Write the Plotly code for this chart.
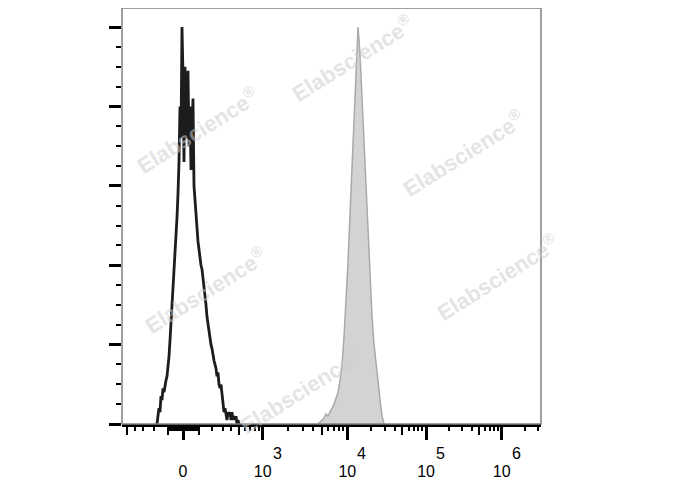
import numpy as np
import plotly.graph_objects as go

# ---------------- data ----------------
# Display scale: biexponential-like, channels 0..1024 across the plot width
CHANNEL_RANGE = [0, 1024]
ANCHOR_VALUES = [0, 1e3, 1e4, 1e5, 1e6]
ANCHOR_CHANNELS = [149.1, 343.9, 550.6, 743.0, 928.0]
LINEAR_WIDTH = 229.0

TICK_LABEL_VALUES = [0, 1e3, 1e4, 1e5, 1e6]
TICK_BASES = ["0", "10", "10", "10", "10"]
TICK_EXPONENTS = ["", "3", "4", "5", "6"]
MEDIUM_TICK_VALUES = [-500, -100, 100, 500, 5e3, 5e4, 5e5]
MINOR_TICK_VALUES = ([-900, -800, -700, -600, -400, -300, -200,
                      -90, -80, -70, -60, -50, -40, -30, -20, -10,
                      10, 20, 30, 40, 50, 60, 70, 80, 90,
                      200, 300, 400, 600, 700, 800, 900]
                     + [m * 10 ** e for e in (3, 4, 5) for m in (2, 3, 4, 6, 7, 8, 9)]
                     + [2e6, 3e6])

Y_MAJOR = [0, 20, 40, 60, 80, 100]
Y_MINOR = [5, 10, 15, 25, 30, 35, 45, 50, 55, 65, 70, 75, 85, 90, 95, 105]
Y_RANGE = [0, 104.8]

# Unstained / isotype histogram (black line): bin start channel, bin width, % of max
BLACK_START = 85.5
BLACK_BIN = 2.444
BLACK_COUNTS = [0, 2, 4, 3, 7, 6, 9, 8, 10, 11, 12, 14, 17, 21, 25, 29, 33, 37, 41, 46,
                52, 58, 66, 80, 72, 100, 88, 66, 90, 72, 78, 89, 70, 80, 64, 74, 82, 60,
                56, 52, 50, 46, 44, 41, 40, 39, 37, 35, 33, 30, 27, 25, 24, 22, 20, 19,
                17, 16, 15, 14, 12, 13, 10, 9, 10, 7, 5, 3, 4, 2, 1, 3, 2, 3, 1, 3, 1,
                2, 1, 2, 0, 1, 0, 0]

# Stained histogram (grey filled)
GREY_START = 479.1
GREY_BIN = 4.888
GREY_COUNTS = [0, 0.5, 1, 1.5, 2.5, 2, 3, 4, 5, 6.5, 8, 11, 15, 22, 31, 41, 53, 65, 77,
               90, 100, 93, 82, 70, 59, 48, 36, 27, 20, 15, 10, 6, 2, 0]


def to_channel(values):
    v = np.asarray(values, dtype=float)
    au = np.arcsinh(np.array(ANCHOR_VALUES) / LINEAR_WIDTH)
    ac = np.array(ANCHOR_CHANNELS)
    u = np.abs(np.arcsinh(v / LINEAR_WIDTH))
    c = np.interp(u, au, ac)
    slope = (ac[-1] - ac[-2]) / (au[-1] - au[-2])
    c = np.where(u > au[-1], ac[-1] + (u - au[-1]) * slope, c)
    return np.where(v < 0, 2 * ac[0] - c, c)


black_x = BLACK_START + BLACK_BIN * np.arange(len(BLACK_COUNTS))
grey_x = GREY_START + GREY_BIN * np.arange(len(GREY_COUNTS))

fig = go.Figure()
fig.add_trace(go.Scatter(x=grey_x, y=GREY_COUNTS, mode="lines", fill="tozeroy",
                         fillcolor="#d3d3d3", line=dict(color="#a9a9a9", width=1.5),
                         showlegend=False, hoverinfo="skip"))
fig.add_trace(go.Scatter(x=black_x, y=BLACK_COUNTS, mode="lines",
                         line=dict(color="#1c1c1c", width=2.8),
                         showlegend=False, hoverinfo="skip"))
# empty helper traces so overlay tick axes are drawn
for ax, ay in (("x2", "y"), ("x3", "y"), ("x", "y2")):
    fig.add_trace(go.Scatter(x=[None], y=[None], xaxis=ax, yaxis=ay, showlegend=False,
                             hoverinfo="skip"))

FONT_FAMILY = "Liberation Sans, Arial, sans-serif"
font = dict(family=FONT_FAMILY, size=16, color="black")

# the page body adds an 8px margin, so the figure is 8px smaller on each axis
W, H = 680, 482
ML, MR, MT, MB = 114, 147, 0, 66

common_x = dict(range=CHANNEL_RANGE, showgrid=False, zeroline=False, ticks="outside",
                tickcolor="black", fixedrange=True)
fig.update_layout(
    width=W, height=H,
    margin=dict(l=ML, r=MR, t=MT, b=MB, autoexpand=False),
    plot_bgcolor="white", paper_bgcolor="white",
    font=font,
    xaxis=dict(**common_x, tickmode="array", tickvals=to_channel(TICK_LABEL_VALUES),
               ticktext=TICK_BASES, ticklen=13, tickwidth=2.5, showline=True,
               linecolor="black", linewidth=3, tickfont=font, ticklabelstandoff=18),
    xaxis2=dict(**common_x, overlaying="x", anchor="y", side="bottom", tickmode="array",
                tickvals=to_channel(MEDIUM_TICK_VALUES), ticklen=10, tickwidth=2,
                showticklabels=False, showline=False),
    xaxis3=dict(**common_x, overlaying="x", anchor="y", side="bottom", tickmode="array",
                tickvals=to_channel(MINOR_TICK_VALUES), ticklen=6, tickwidth=1.5,
                showticklabels=False, showline=False),
    yaxis=dict(range=Y_RANGE, showgrid=False, zeroline=False, ticks="outside",
               tickmode="array", tickvals=Y_MAJOR, ticklen=12, tickwidth=2.5,
               tickcolor="black", showticklabels=False, showline=False, fixedrange=True),
    yaxis2=dict(range=Y_RANGE, overlaying="y", anchor="x", side="left", showgrid=False,
                zeroline=False, ticks="outside", tickmode="array", tickvals=Y_MINOR,
                ticklen=5, tickwidth=1.5, tickcolor="black", showticklabels=False,
                showline=False, fixedrange=True),
    shapes=[dict(type="rect", xref="paper", yref="paper", x0=0, x1=1, y0=0, y1=1,
                 line=dict(color="#808080", width=1.5), layer="above")],
)

# exponents of the decade labels (full-size, raised)
for val, exp in zip(TICK_LABEL_VALUES, TICK_EXPONENTS):
    if exp:
        fig.add_annotation(text=exp, xref="x", yref="paper", x=float(to_channel(val)), y=0,
                           xanchor="left", yanchor="top", xshift=8, yshift=-19,
                           showarrow=False, font=font)

# watermarks (centres given in window pixels)
WATERMARK_CENTERS_PX = [(352, 58), (197, 130), (463, 153), (205, 290), (497, 277), (300, 390)]
PLOT_LEFT_PX, PLOT_TOP_PX, PLOT_W, PLOT_H = 122, 8, 419, 416
for px, py in WATERMARK_CENTERS_PX:
    fig.add_annotation(text="Elabscience<sup>®</sup>", xref="paper", yref="paper",
                       x=(px - PLOT_LEFT_PX) / PLOT_W,
                       y=(PLOT_TOP_PX + PLOT_H - py) / PLOT_H, showarrow=False,
                       textangle=-32, xanchor="center", yanchor="middle",
                       font=dict(family=FONT_FAMILY, size=22,
                                 color="rgba(205,205,205,0.55)", weight="bold"))

fig.write_html("out.html")
